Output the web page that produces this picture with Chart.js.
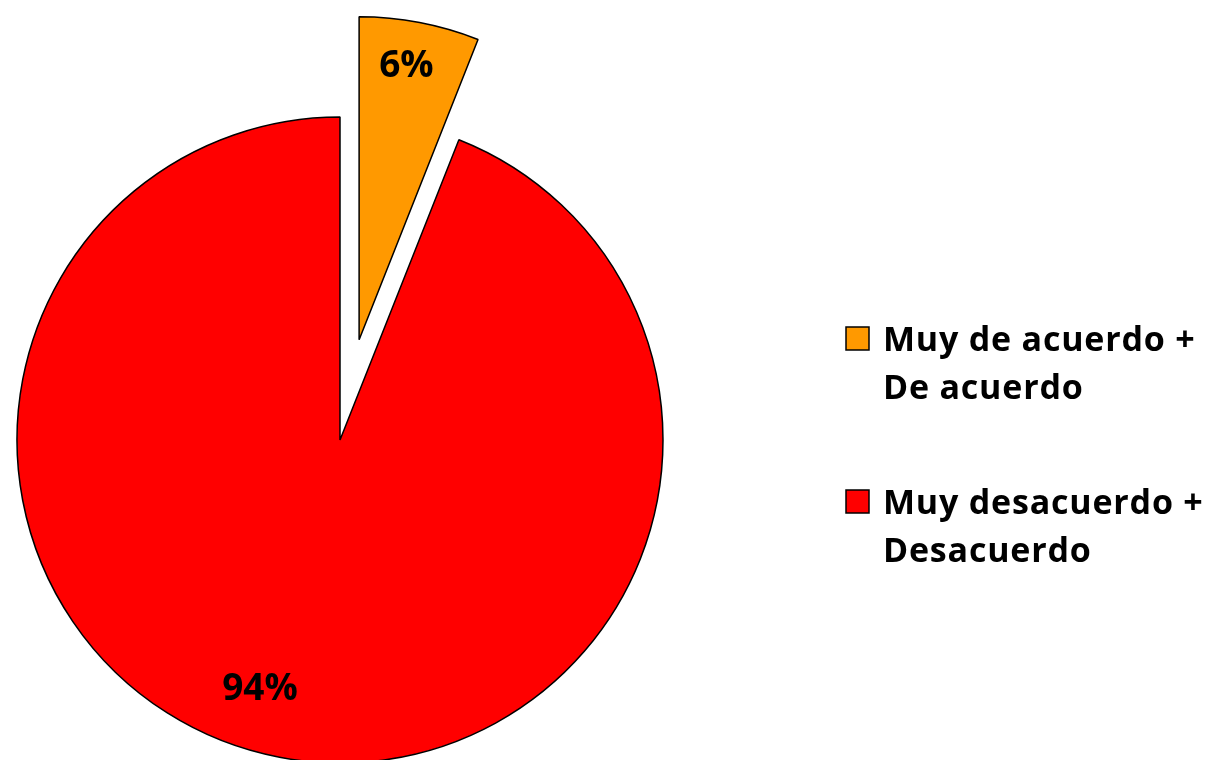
<!DOCTYPE html>
<html>
<head>
<meta charset="utf-8">
<script src="https://cdn.jsdelivr.net/npm/chart.js@4.4.0/dist/chart.umd.min.js"></script>
<style>
    html, body { margin: 0; padding: 0; background: #ffffff; }
    #wrap { width: 1218px; height: 760px; }
</style>
</head>
<body>
<div id="wrap"><canvas id="pieChart" width="1218" height="760"></canvas></div>
<script>
// datos del gráfico
let categories = [['Muy de acuerdo +', 'De acuerdo'], ['Muy desacuerdo +', 'Desacuerdo']]
let values = [6, 94]
let percentLabels = ['6%', '94%']
let colors = ['#FF9900', '#FF0000']

// separación del sector (px) y ajustes de la etiqueta (fracción del radio, giro en grados)
let explode = [102, 0]
let labelRadius = [0.86, 0.81]
let labelTurn = [-1, 7]

const FONT = '"Open Sans", sans-serif'

// separa el sector desplazando su centro a lo largo de la bisectriz (sin cambiar el radio)
const explodeSlices = {
    id: 'explodeSlices',
    afterDatasetsUpdate(chart) {
        let meta = chart.getDatasetMeta(0)
        meta.data.forEach((arc, i) => {
            let mid = (arc.startAngle + arc.endAngle) / 2
            arc.x += Math.cos(mid) * explode[i]
            arc.y += Math.sin(mid) * explode[i]
        })
    }
}

// etiquetas de porcentaje dentro de cada sector
const pctLabels = {
    id: 'pctLabels',
    afterDatasetsDraw(chart) {
        let ctx = chart.ctx
        let meta = chart.getDatasetMeta(0)
        ctx.save()
        ctx.font = 'bold 37px ' + FONT
        ctx.fillStyle = '#000000'
        ctx.textAlign = 'center'
        ctx.textBaseline = 'middle'
        meta.data.forEach((arc, i) => {
            let mid = (arc.startAngle + arc.endAngle) / 2
            let a = mid + labelTurn[i] * Math.PI / 180
            let d = labelRadius[i] * arc.outerRadius
            ctx.fillText(percentLabels[i], arc.x + Math.cos(a) * d, arc.y + Math.sin(a) * d)
        })
        ctx.restore()
    }
}

// leyenda a la derecha con texto en dos líneas
const sideLegend = {
    id: 'sideLegend',
    afterDraw(chart) {
        let ctx = chart.ctx
        let x = 846, y = 327, box = 23, gap = 163, lineH = 48
        ctx.save()
        ctx.font = 'bold 34px ' + FONT
        ctx.letterSpacing = '0.8px'
        ctx.textBaseline = 'alphabetic'
        ctx.textAlign = 'left'
        chart.data.labels.forEach((lab, i) => {
            let top = y + i * gap
            ctx.fillStyle = chart.data.datasets[0].backgroundColor[i]
            ctx.fillRect(x, top, box, box)
            ctx.strokeStyle = '#000000'
            ctx.lineWidth = 1.5
            ctx.strokeRect(x, top, box, box)
            ctx.fillStyle = '#000000'
            lab.forEach((line, j) => {
                ctx.fillText(line, 883, top + 24 + j * lineH)
            })
        })
        ctx.restore()
    }
}

let chart = new Chart(document.getElementById('pieChart'), {
    type: 'pie',
    data: {
        labels: categories,
        datasets: [{
            data: values,
            backgroundColor: colors,
            borderColor: '#000000',
            borderWidth: 1.5,
            clip: false
        }]
    },
    options: {
        responsive: false,
        animation: false,
        radius: 323,
        layout: {
            padding: { left: 0, right: 538, top: 120, bottom: 0 }
        },
        plugins: {
            legend: { display: false },
            tooltip: { enabled: false }
        }
    },
    plugins: [explodeSlices, pctLabels, sideLegend]
})
</script>
</body>
</html>
